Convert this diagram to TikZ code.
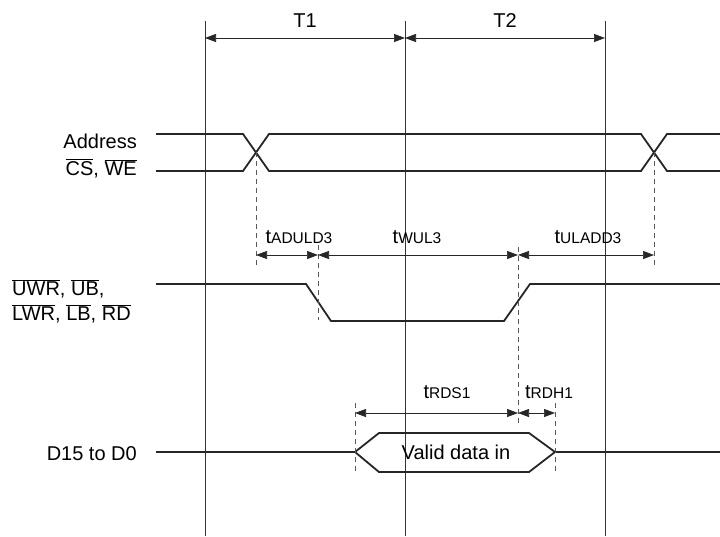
\documentclass[tikz,border=0pt]{standalone}
\usepackage{fontspec}
\setmainfont{Liberation Sans}
\usetikzlibrary{arrows.meta}
\usetikzlibrary{positioning}

\newcommand{\ovl}[1]{$\overline{\mbox{#1}}$}
\newcommand{\tsub}[1]{t{\fontsize{15.5}{18}\selectfont #1}}

\begin{document}
\begin{tikzpicture}[x=1pt, y=-1pt,
  edge/.style={line width=0.7pt, black!80},
  sig/.style={line width=1.8pt, black!85},
  guide/.style={line width=0.7pt, black!65, dash pattern=on 5pt off 4pt},
  dimtip/.tip={Triangle[length=11pt,width=8pt]},
  dim/.style={dimtip-dimtip, line width=0.7pt, black!85},
  lbl/.style={font=\fontsize{20}{25}\selectfont, inner sep=0pt}]

  \useasboundingbox (0,0) rectangle (720,536);

  % cycle edges
  \coordinate (e1) at (205,21);  \coordinate (f1) at (205,536);
  \coordinate (e2) at (405,21);  \coordinate (f2) at (405,536);
  \coordinate (e3) at (605,21);  \coordinate (f3) at (605,536);
  \draw[edge] (e1)--(f1) (e2)--(f2) (e3)--(f3);

  \coordinate (c1) at (205,38);
  \coordinate (c2) at (405,38);
  \coordinate (c3) at (605,38);
  \draw[dim] (c1)--(c2);
  \draw[dim] (c2)--(c3);
  \node (t1) [lbl, anchor=base] at (305,27) {T1};
  \node (t2) [lbl, anchor=base] at (505,27) {T2};

  % signal names
  \node (addr) [lbl, anchor=base east] at (137,148) {Address};
  \node (cswe) [lbl, anchor=base east] at (137,175) {\ovl{CS}, \ovl{WE}};
  \node (uwr)  [lbl, anchor=base west] at (12,295) {\ovl{UWR}, \ovl{UB},};
  \node (lwr)  [lbl, anchor=base west] at (12,320) {\ovl{LWR}, \ovl{LB}, \ovl{RD}};
  \node (dat)  [lbl, anchor=base east] at (137,460) {D15 to D0};

  % waveforms
  \draw[sig] (156,134)--(243,134)--(269,171)--(641,171)--(667,134)--(720,134);
  \draw[sig] (156,171)--(243,171)--(269,134)--(641,134)--(667,171)--(720,171);
  \draw[sig] (156,284)--(306,284)--(331,321)--(504,321)--(530,284)--(720,284);
  \draw[sig] (156,452)--(355,452);
  \draw[sig] (555,452)--(720,452);
  \draw[sig] (355,452)--(379,433)--(529,433)--(555,452)--(529,472)--(379,472)--cycle;
  \node (valid) [lbl, anchor=base] at (456,459) {Valid data in};

  % reference lines
  \draw[guide] (256,152)--(256,265);
  \draw[guide] (654,152)--(654,266);
  \draw[guide] (318,245)--(318,320);
  \draw[guide] (518,247)--(518,423);
  \draw[guide] (355,403)--(355,472);
  \draw[guide] (555,403)--(555,472);

  % timing parameters
  \coordinate (a1) at (256,255);
  \coordinate (a2) at (318,255);
  \coordinate (a3) at (518,255);
  \coordinate (a4) at (654,255);
  \draw[dim] (a1)--(a2);
  \draw[dim] (a2)--(a3);
  \draw[dim] (a3)--(a4);
  \node (aduld) [lbl, anchor=base] at (299,243) {\tsub{ADULD3}};
  \node (wul)   [lbl, anchor=base] at (417,243) {\tsub{WUL3}};
  \node (uladd) [lbl, anchor=base] at (588,243) {\tsub{ULADD3}};

  \coordinate (b1) at (355,413);
  \coordinate (b2) at (518,413);
  \coordinate (b3) at (555,413);
  \draw[dim] (b1)--(b2);
  \draw[dim] (b2)--(b3);
  \node (rds) [lbl, anchor=base] at (447,398) {\tsub{RDS1}};
  \node (rdh) [lbl, anchor=base] at (549,398) {\tsub{RDH1}};
\end{tikzpicture}
\end{document}
